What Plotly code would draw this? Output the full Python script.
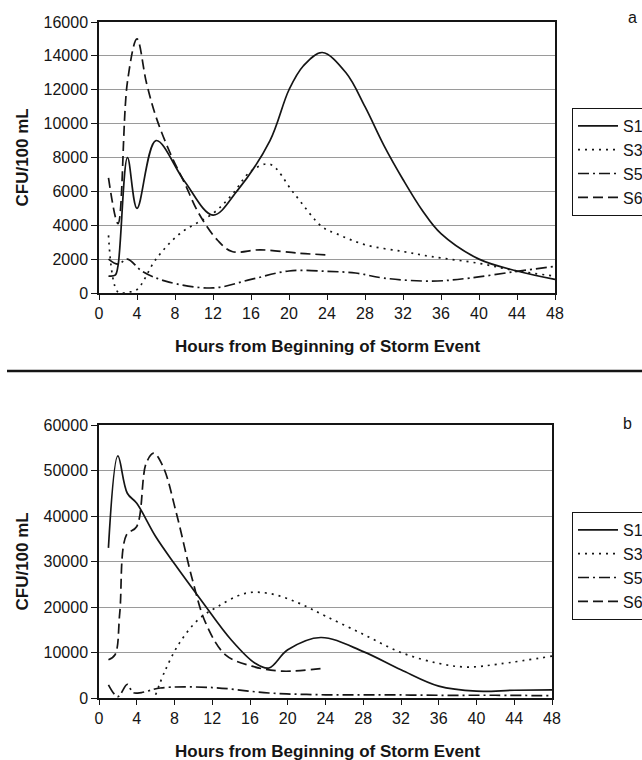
import plotly.graph_objects as go

# ---------------- Panel a ----------------
a_s1_hours = [1, 1.7, 2, 3, 4, 6, 9, 12, 14.5, 18, 20, 21.5, 23.5, 26, 28, 30, 32, 34, 36, 40, 44, 48]
a_s1_cfu = [1000, 1050, 1600, 8000, 5000, 9000, 6600, 4600, 6000, 9000, 12000, 13400, 14200, 13000, 11000, 8700, 6700, 4900, 3500, 2000, 1300, 800]

a_s3_hours = [1, 2, 3, 4, 6, 8.5, 12, 14, 16, 18, 20.5, 23.5, 25, 28, 32, 35, 40, 44, 48]
a_s3_cfu = [3400, 50, 50, 200, 2000, 3500, 4700, 5800, 7200, 7600, 5900, 3900, 3500, 2850, 2450, 2150, 1750, 1300, 1000]

a_s5_hours = [1, 2, 3, 4.5, 7, 12, 16, 20, 24, 27, 30, 35, 39, 44, 48]
a_s5_cfu = [2000, 1700, 2000, 1300, 700, 300, 800, 1300, 1280, 1180, 880, 700, 880, 1280, 1570]

a_s6_hours = [1, 2, 3, 4, 5, 6, 7.5, 9, 10.5, 12.5, 14, 17, 21, 24]
a_s6_cfu = [6800, 4100, 12500, 15000, 12400, 10400, 8250, 6500, 4700, 3100, 2450, 2550, 2350, 2250]

# ---------------- Panel b ----------------
b_s1_hours = [1, 2, 3, 4, 6, 8, 11, 14, 16.5, 18, 20, 23.5, 28, 32, 36, 40, 44, 48]
b_s1_cfu = [33000, 53200, 45000, 42800, 35500, 29500, 21000, 12800, 7700, 6600, 10600, 13300, 10200, 6200, 2600, 1500, 1700, 1800]

b_s3_hours = [6, 7, 8.5, 10.5, 12.5, 15.5, 18, 21, 24, 28, 32, 36, 39, 42.5, 48]
b_s3_cfu = [700, 6000, 12000, 17200, 20000, 23000, 23000, 21000, 18000, 14000, 10000, 7600, 6800, 7500, 9200]

b_s5_hours = [1, 2, 3, 3.6, 4.5, 6.5, 12, 18, 24, 30, 36, 42, 48]
b_s5_cfu = [2900, 300, 3000, 1200, 1200, 2200, 2300, 1100, 700, 700, 600, 600, 500]

b_s6_hours = [1, 1.7, 2.2, 2.9, 4, 5, 5.8, 6.8, 8.2, 9.9, 11.3, 13.4, 16.2, 19.4, 24]
b_s6_cfu = [8400, 9500, 18700, 35800, 37700, 51600, 53800, 50800, 40600, 26000, 16500, 9500, 7000, 5900, 6600]

series_names = ["S1", "S3", "S5", "S6"]
x_ticks = list(range(0, 49, 4))

W, H = 642, 760


def px(x):
    return x / W


def py(y):
    return 1 - y / H


FONT = "Arial, Liberation Sans, sans-serif"
INK = "#151515"
dashes = {"S1": "solid", "S3": "2px,5px", "S5": "11px,4px,2px,4px", "S6": "10px,5px"}

fig = go.Figure()

panel_a = [(a_s1_hours, a_s1_cfu), (a_s3_hours, a_s3_cfu), (a_s5_hours, a_s5_cfu), (a_s6_hours, a_s6_cfu)]
panel_b = [(b_s1_hours, b_s1_cfu), (b_s3_hours, b_s3_cfu), (b_s5_hours, b_s5_cfu), (b_s6_hours, b_s6_cfu)]

for name, (hx, hy) in zip(series_names, panel_a):
    fig.add_trace(go.Scatter(x=hx, y=hy, name=name, mode="lines",
                             line=dict(color=INK, width=1.7, dash=dashes[name], shape="spline", smoothing=1.0),
                             xaxis="x", yaxis="y", legend="legend"))
for name, (hx, hy) in zip(series_names, panel_b):
    fig.add_trace(go.Scatter(x=hx, y=hy, name=name, mode="lines",
                             line=dict(color=INK, width=1.7, dash=dashes[name], shape="spline", smoothing=1.0),
                             xaxis="x2", yaxis="y2", legend="legend2"))

xdom = [px(99), px(555)]
xdom2 = [px(99), px(552)]
ydom_a = [py(293), py(22)]
ydom_b = [py(698), py(425)]

common_x = dict(range=[0, 48], tickvals=x_ticks, ticks="outside", ticklen=5, tickcolor=INK,
                showline=True, linecolor=INK, linewidth=1.5, mirror=True, showgrid=False,
                zeroline=False, tickfont=dict(family=FONT, size=16, color=INK))
common_y = dict(ticks="outside", ticklen=6, tickcolor=INK, tickformat="d",
                showline=True, linecolor=INK, linewidth=1.5, mirror=True,
                showgrid=True, gridcolor="#9a9a9a", gridwidth=1, zeroline=False,
                tickfont=dict(family=FONT, size=16, color=INK))

legend_common = dict(xanchor="left", yanchor="top", bordercolor=INK, borderwidth=1,
                     bgcolor="white", font=dict(family=FONT, size=16, color=INK),
                     tracegroupgap=0, itemwidth=40)

fig.update_layout(
    width=W, height=H,
    margin=dict(l=0, r=0, t=0, b=0, autoexpand=False),
    paper_bgcolor="white", plot_bgcolor="white",
    xaxis=dict(domain=xdom, anchor="y", **common_x),
    yaxis=dict(domain=ydom_a, anchor="x", range=[0, 16000], dtick=2000, **common_y),
    xaxis2=dict(domain=xdom2, anchor="y2", **common_x),
    yaxis2=dict(domain=ydom_b, anchor="x2", range=[0, 60000], dtick=10000, **common_y),
    legend=dict(x=px(572), y=py(108), **legend_common),
    legend2=dict(x=px(572), y=py(512), **legend_common),
    showlegend=True,
)

title_font = dict(family=FONT, size=17, color=INK, weight="bold")
ann = []
for yc in (347, 751):
    ann.append(dict(text="Hours from Beginning of Storm Event", x=px((99 + 555) / 2), y=py(yc),
                    xref="paper", yref="paper", showarrow=False, font=title_font,
                    xanchor="center", yanchor="middle"))
for yc in ((22 + 293) / 2, (425 + 698) / 2):
    ann.append(dict(text="CFU/100 mL", x=px(22), y=py(yc), xref="paper", yref="paper",
                    showarrow=False, textangle=-90, font=title_font,
                    xanchor="center", yanchor="middle"))
ann.append(dict(text="a", x=px(632), y=py(18), xref="paper", yref="paper", showarrow=False,
                font=dict(family=FONT, size=16, color=INK), xanchor="center", yanchor="middle"))
ann.append(dict(text="b", x=px(627), y=py(424), xref="paper", yref="paper", showarrow=False,
                font=dict(family=FONT, size=16, color=INK), xanchor="center", yanchor="middle"))
fig.update_layout(annotations=ann)

fig.add_shape(type="line", xref="paper", yref="paper", x0=px(7), x1=1, y0=py(371), y1=py(371),
              line=dict(color=INK, width=2.5))

# remove the default page margin so the 642x760 figure fills the window exactly
fig.write_html("out.html",
               config={"displayModeBar": False},
               post_script="document.body.style.margin='0';document.body.style.overflow='hidden';")
